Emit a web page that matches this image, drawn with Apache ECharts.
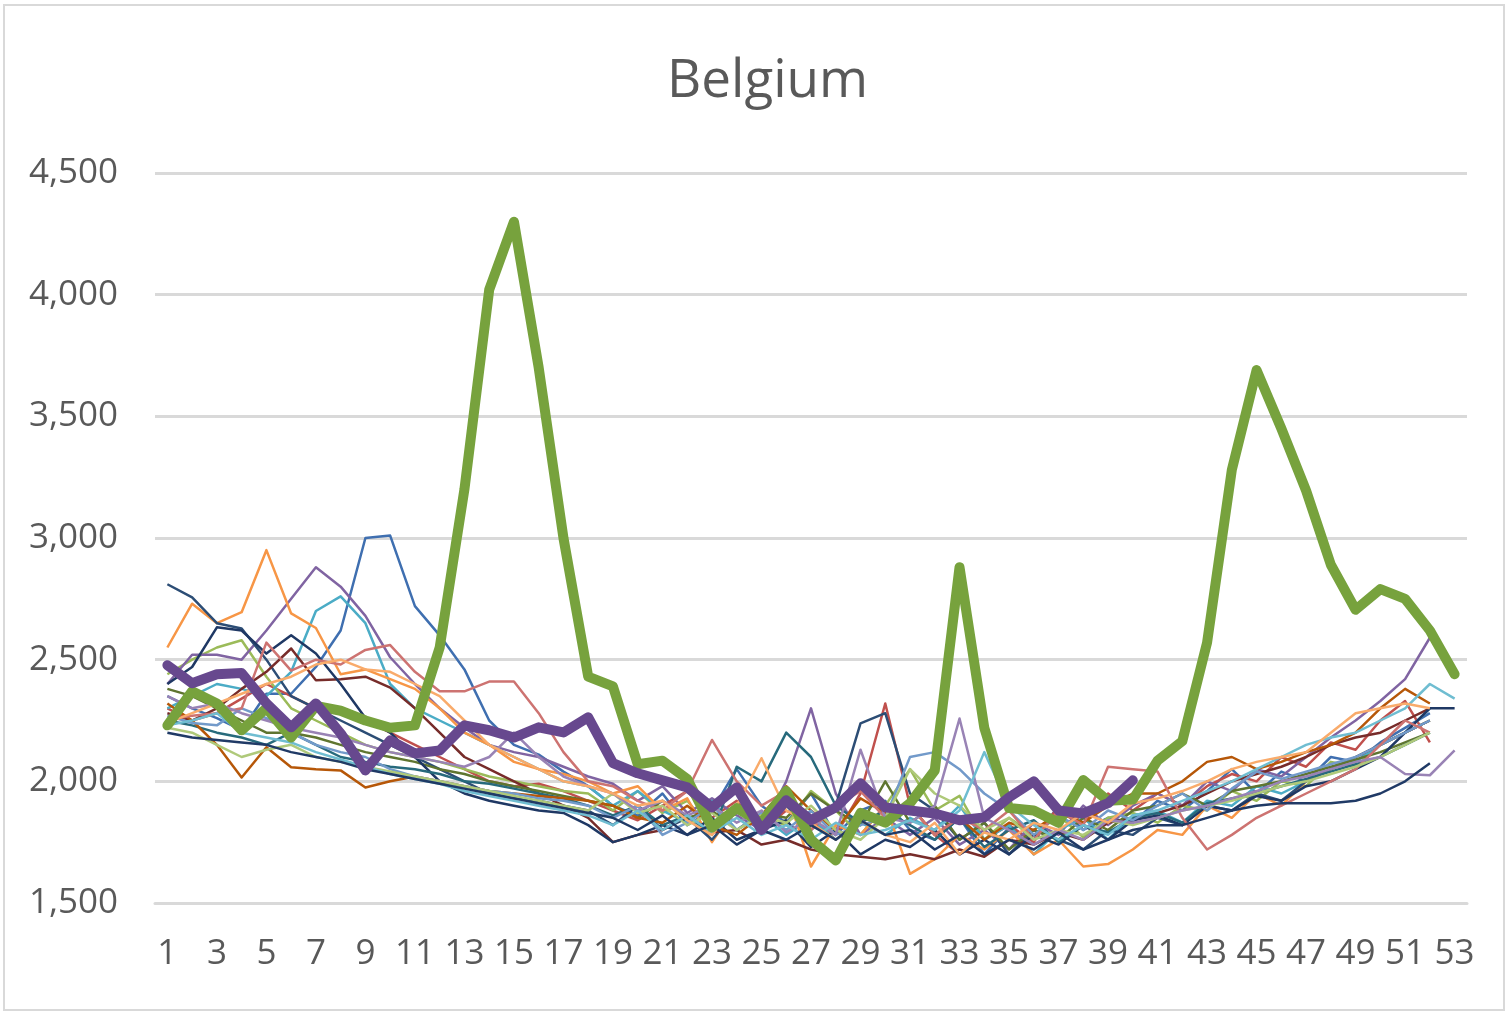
<!DOCTYPE html>
<html>
<head>
<meta charset="utf-8">
<title>Belgium</title>
<script src="https://cdn.jsdelivr.net/npm/echarts@6/dist/echarts.min.js"></script>
<style>
  html, body { margin: 0; padding: 0; background: #fff; }
  #container { width: 1505px; height: 1013px; }
</style>
</head>
<body>
<div id="container"></div>
<script>
// week numbers 1..53
var weeks = [];
for (var i = 1; i <= 53; i++) weeks.push(String(i));

var yTicks = [1500, 2000, 2500, 3000, 3500, 4000, 4500];

// earlier years (thin lines)
var y01 = [2350,2300,2260,2210,2360,2360,2470,2620,3000,3010, 2720,2600,2460,2250,2150,2110,2040,1980,1900,1860, 1950,1820,1880,2050,1900,1830,1950,1780,1880,1920, 1800,1760,1850,1700,1810,1760,1900,1800,1850,1830, 1920,1880,1960,2050,1950,2040,2000,2100,2080,2160, 2220,2280,null];
var y02 = [2300,2250,2280,2340,2400,2350,2300,2280,2250,2200, 2150,2100,2050,2000,1980,1990,1960,1920,1880,1840, 1900,1960,1850,1920,1800,1880,1830,1780,1950,2320, 1900,1780,1700,1760,1820,1750,1900,1830,1950,1880, 1950,1900,1980,2030,2000,2100,2060,2160,2130,2250, 2330,2160,null];
var y03 = [2440,2500,2550,2580,2430,2300,2250,2200,2150,2120, 2100,2080,2050,2020,2000,1980,1960,1950,1880,1960, 1870,1920,1800,1880,1850,1820,1960,1880,1780,1900, 2050,1880,1940,1760,1850,1780,1860,1770,1850,1870, 1830,1900,1880,1960,1920,2000,1980,2080,2060,2150, 2200,2250,null];
var y04 = [2400,2520,2520,2500,2620,2750,2880,2800,2680,2510, 2400,2300,2220,2150,2120,2100,2060,2020,1990,1920, 1980,1870,1930,1860,1800,2000,2300,1950,1780,1850, 1780,1850,1740,1800,1720,1830,1780,1900,1820,1900, 1950,1900,2000,1960,2050,2020,2100,2180,2250,2330, 2420,2590,null];
var y05 = [2300,2350,2400,2380,2350,2450,2700,2760,2650,2400, 2300,2250,2200,2150,2100,2050,2000,1980,1900,1960, 1880,1830,1920,1800,1860,1780,1850,1760,1830,1780, 1850,1800,1900,1760,1820,1700,1800,1850,1760,1860, 1880,1830,1920,1900,1980,1950,2000,2050,2080,2150, 2200,2300,null];
var y06 = [2550,2730,2650,2695,2950,2690,2630,2440,2460,2420, 2380,2300,2200,2150,2080,2050,2030,2000,1950,1980, 1880,1930,1750,1900,1820,1960,1650,1820,1780,1900, 1620,1680,1780,1720,1800,1700,1760,1650,1660,1720, 1800,1780,1900,1850,1950,1900,2000,2050,2100,2150, 2200,2250,null];
var y07 = [2810,2756,2650,2628,2500,2350,2300,2250,2200,2150, 2100,2050,2000,1950,1930,1920,1900,1880,1820,1900, 1800,1850,1760,1880,1820,1900,1800,1900,2238,2280, 1950,1880,1760,1830,1700,1800,1760,1720,1800,1780, 1850,1820,1900,1880,1950,1920,2000,2050,2100,2150, 2200,2250,null];
var y08 = [2280,2250,2300,2380,2450,2546,2415,2420,2430,2385, 2300,2200,2100,2050,2000,1950,1900,1850,1750,1780, 1800,1860,1790,1800,1740,1760,1720,1700,1690,1680, 1700,1680,1720,1690,1760,1740,1790,1760,1830,1850, 1870,1900,1950,2000,2030,2060,2100,2150,2180,2200, 2250,2300,null];
var y09 = [2380,2350,2300,2250,2200,2200,2180,2150,2120,2100, 2080,2050,2030,2000,1980,1960,1940,1920,1900,1850, 1920,1850,1880,1800,1870,1850,1950,1880,1820,2000, 1830,1900,1760,1830,1720,1800,1760,1850,1800,1880, 1900,1950,1900,1960,1980,2000,2030,2060,2090,2120, 2160,2200,null];
var y10 = [2400,2470,2633,2620,2525,2600,2525,2400,2260,2200, 2100,2000,1950,1920,1900,1880,1870,1820,1750,1780, 1820,1780,1850,1760,1800,1840,1730,1800,1700,1760, 1730,1800,1700,1760,1700,1780,1740,1820,1760,1840, 1860,1820,1900,1880,1940,1920,1980,2000,2050,2100, 2200,2300,2300];
var y11 = [2250,2230,2200,2180,2150,2200,2150,2100,2080,2060, 2050,2030,2000,1990,1970,1950,1930,1900,1860,1900, 1820,1860,1780,2060,2000,2200,2100,1900,1830,1880, 1820,1760,1850,1730,1800,1840,1750,1820,1790,1850, 1870,1830,1910,1930,1950,1980,2010,2040,2070,2100, 2150,2200,null];
var y12 = [2320,2250,2150,2016,2140,2058,2050,2045,1975,2000, 2020,2000,1980,1960,1950,1940,1930,1920,1900,1850, 1830,1900,1820,1780,1860,1980,1880,1800,1930,1870, 1900,1780,1850,1760,1830,1800,1870,1830,1900,1950, 1950,2000,2080,2100,2050,2080,2120,2150,2200,2300, 2380,2320,null];
var y13 = [2270,2240,2230,2300,2260,2200,2150,2120,2100,2050, 2020,2000,1980,1960,1950,1930,1920,1900,1850,1900, 1780,1830,1900,1800,1870,1800,1880,1780,1820,1850, 2100,2120,2050,1950,1880,1780,1860,1800,1880,1840, 1900,1950,1880,1970,2040,2010,2040,2070,2100,2150, 2200,2250,null];
var y14 = [2250,2270,2280,2300,2570,2455,2500,2480,2540,2560, 2450,2370,2370,2410,2410,2280,2120,2000,1980,1920, 1880,1960,2170,2000,1900,1960,1800,1900,1960,1850, 1900,1780,1850,1800,1880,1760,1880,1820,2060,2050, 2040,1850,1720,1780,1850,1900,1950,2000,2050,2150, 2250,2200,null];
var y15 = [2220,2200,2150,2100,2130,2150,2100,2080,2060,2040, 2020,2000,1980,1960,1940,1920,1900,1880,1950,1870, 1900,1820,1870,1800,1860,1830,1900,1800,1760,1850, 2050,1950,1900,1800,1850,1760,1800,1780,1840,1820, 1850,1880,1900,1920,1950,1980,2000,2030,2060,2100, 2150,2200,null];
var y16 = [2350,2300,2320,2280,2250,2220,2200,2180,2150,2120, 2100,2080,2060,2100,2200,2100,2020,1980,1950,1880, 1920,1860,1900,1830,1880,1790,1850,1780,2130,1850, 1830,1900,2258,1850,1800,1740,1800,1760,1840,1830, 1850,1880,1900,1930,1960,2000,2020,2050,2080,2100, 2030,2025,2127];
var y17 = [2230,2250,2280,2200,2180,2160,2120,2090,2060,2030, 2010,1990,1960,1940,1920,1900,1880,1860,1820,1880, 1800,1860,1790,1850,1780,1820,1760,1830,1780,1800, 1840,1800,1880,2120,1900,1820,1760,1820,1780,1860, 1880,1920,1960,2000,2050,2100,2150,2180,2200,2250, 2300,2400,2340];
var y18 = [2240,2280,2320,2360,2400,2430,2480,2500,2460,2450, 2400,2350,2250,2150,2100,2050,2000,1980,1950,1900, 1920,1840,1780,1900,2095,1880,1830,1760,1840,1780, 1750,1830,1700,1790,1760,1830,1800,1870,1830,1910, 1930,1960,2000,2050,2080,2100,2120,2200,2280,2300, 2320,2300,null];
var y19 = [2200,2180,2170,2160,2150,2120,2100,2080,2050,2030, 2010,1990,1970,1950,1930,1910,1890,1870,1850,1800, 1860,1780,1820,1740,1800,1760,1820,1760,1840,1780, 1800,1720,1780,1700,1760,1720,1790,1720,1760,1800, 1820,1820,1850,1880,1900,1910,1910,1910,1920,1950, 2000,2074,null];

// 2020 and 2021 (thick lines)
var y2020 = [2230,2370,2320,2210,2300,2180,2310,2290,2250,2220, 2230,2550,3200,4020,4300,3700,3000,2430,2390,2070, 2085,2010,1810,1890,1830,1960,1760,1675,1870,1830, 1910,2045,2880,2220,1890,1880,1830,2005,1920,1925, 2085,2165,2570,3280,3690,3450,3195,2890,2705,2790, 2750,2620,2440];
var y2021 = [2477,2403,2440,2445,2320,2222,2320,2197,2045,2168, 2115,2127,2230,2210,2180,2222,2201,2263,2075,2033, 2004,1975,1893,1975,1800,1922,1840,1893,1992,1893, 1880,1868,1840,1852,1934,2000,1880,1868,1910,2004, null,null,null,null,null,null,null,null,null,null, null,null,null];

var thinData = [y01,y02,y03,y04,y05,y06,y07,y08,y09,y10,y11,y12,y13,y14,y15,y16,y17,y18,y19];
var thinColors = ['#3F6FB0','#C0504D','#9BBB59','#8064A2','#4BACC6','#F79646',
                  '#2C4D75','#772C2A','#5F7530','#1F3864','#276A7C','#B65708',
                  '#729ACA','#CD7371','#AFC97A','#9983B5','#6FBDD1','#F9AB6B','#203A66'];

var series = [];
thinData.forEach(function (d, i) {
  series.push({
    type: 'line',
    data: d,
    symbol: 'none',
    smooth: false,
    lineStyle: { width: 2.5, color: thinColors[i], join: 'round' },
    itemStyle: { color: thinColors[i] },
    silent: true
  });
});
series.push({
  name: '2020', type: 'line', data: y2020, symbol: 'none',
  lineStyle: { width: 10, color: '#77A23D', join: 'round', cap: 'round' },
  itemStyle: { color: '#77A23D' }, z: 3
});
series.push({
  name: '2021', type: 'line', data: y2021, symbol: 'none',
  lineStyle: { width: 10, color: '#67488E', join: 'round', cap: 'round' },
  itemStyle: { color: '#67488E' }, z: 4
});

var dom = document.getElementById('container');
var myChart = echarts.init(dom, null, { renderer: 'canvas' });

var option = {
  animation: false,
  backgroundColor: '#fff',
  title: {
    text: 'Belgium',
    left: 662,
    top: 50,
    textStyle: {
      color: '#595959',
      fontFamily: 'Open Sans',
      fontWeight: 'normal',
      fontSize: 53
    }
  },
  graphic: [{
    type: 'rect',
    shape: { x: 4, y: 5, width: 1500, height: 1005 },
    style: { fill: 'none', stroke: '#D9D9D9', lineWidth: 2 },
    silent: true
  }],
  grid: { left: 155, right: 38, top: 173, bottom: 110 },
  xAxis: {
    type: 'category',
    data: weeks,
    boundaryGap: true,
    axisLine: { show: true, lineStyle: { color: '#D9D9D9', width: 3 } },
    axisTick: { show: false },
    axisLabel: {
      interval: 1,
      margin: 34,
      color: '#595959',
      fontFamily: 'Open Sans',
      fontSize: 35
    }
  },
  yAxis: {
    type: 'value',
    min: yTicks[0],
    max: yTicks[yTicks.length - 1],
    interval: 500,
    axisLine: { show: false },
    axisTick: { show: false },
    splitLine: { lineStyle: { color: '#D9D9D9', width: 3 } },
    axisLabel: {
      margin: 37,
      color: '#595959',
      fontFamily: 'Open Sans',
      fontSize: 35,
      formatter: function (v) { return v.toLocaleString('en-US'); }
    }
  },
  series: series
};

if (option && typeof option === 'object') {
  myChart.setOption(option, true);
}
</script>
</body>
</html>
